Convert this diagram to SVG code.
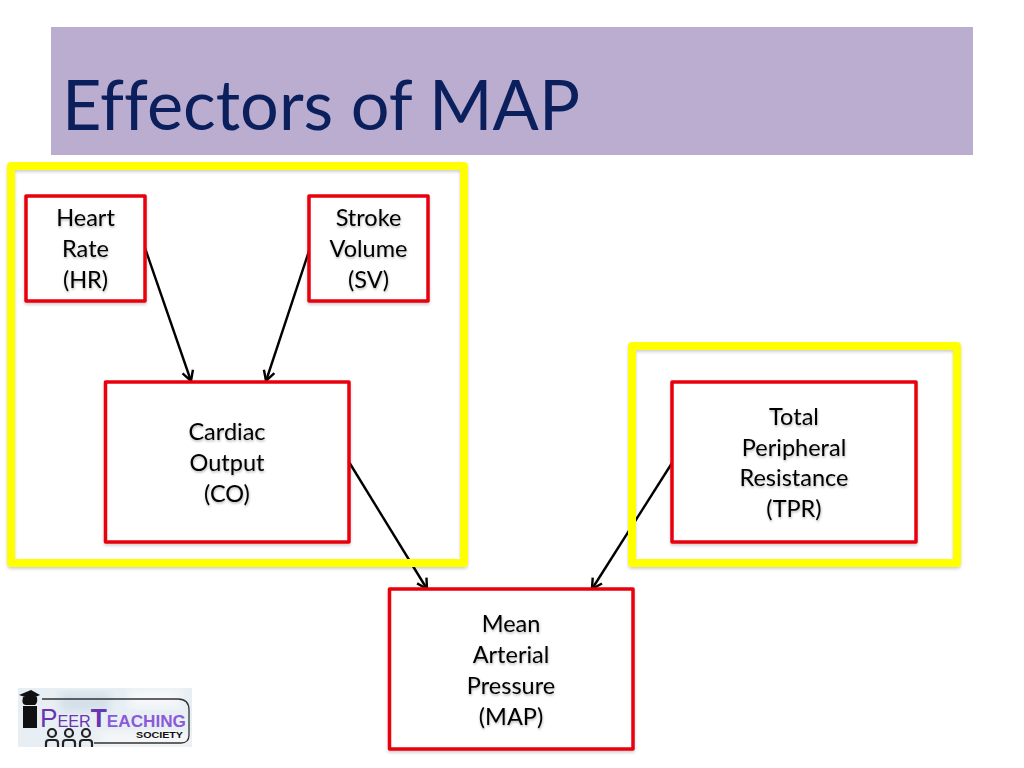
<svg xmlns="http://www.w3.org/2000/svg" width="1024" height="768" viewBox="0 0 1024 768">
<defs>
<filter id="sh" x="-5%" y="-5%" width="110%" height="110%"><feDropShadow dx="0" dy="2" stdDeviation="1.500" flood-color="#000" flood-opacity="0.18"/></filter>
<filter id="ts" x="-10%" y="-10%" width="120%" height="130%"><feDropShadow dx="0.500" dy="1.500" stdDeviation="1" flood-color="#000" flood-opacity="0.3"/></filter>
<filter id="bl"><feGaussianBlur stdDeviation="5"/></filter>
<marker id="arr" markerUnits="userSpaceOnUse" markerWidth="16" markerHeight="16" refX="13" refY="8" orient="auto"><path d="M3 2.500L13 8L3 13.500" fill="none" stroke="#000" stroke-width="2.400"/></marker>
<clipPath id="lc"><rect x="18" y="688" width="174" height="59"/></clipPath>
</defs>
<style>
.frame{fill:none;stroke:#ffff00;stroke-width:8;stroke-linejoin:round;filter:url(#sh)}
.box{fill:#fff;stroke:#e8000f;stroke-width:3.500;stroke-linejoin:round;filter:url(#sh)}
.lbl{font-family:"Lato","Liberation Sans",sans-serif;font-size:23.500px;fill:#000;text-anchor:middle;filter:url(#ts)}
.cn{fill:none;stroke:#000;stroke-width:2.400;marker-end:url(#arr)}
</style>
<rect x="51" y="27" width="922" height="128" fill="#bbadcf"/>
<text x="62" y="130" font-family="Lato,'Liberation Sans',sans-serif" font-size="69" fill="#0b1f5c" textLength="518" lengthAdjust="spacingAndGlyphs" style="font-variant-ligatures:none">Effectors of MAP</text>
<g id="connectors">
<line class="cn" x1="145" y1="248" x2="191" y2="381"/>
<line class="cn" x1="310" y1="248" x2="266" y2="381"/>
<line class="cn" x1="349" y1="462" x2="427" y2="589"/>
<line class="cn" x1="672" y1="463" x2="592" y2="589"/>
</g>
<g id="frame-left"><rect class="frame" x="11" y="166" width="453" height="397"/></g>
<g id="frame-right"><rect class="frame" x="632" y="346" width="325" height="217"/></g>
<g id="heart-rate"><rect class="box" x="26" y="196" width="119" height="105"/>
<text class="lbl"><tspan x="85.500" y="226">Heart</tspan><tspan x="85.500" y="257">Rate</tspan><tspan x="85.500" y="288">(HR)</tspan></text></g>
<g id="stroke-volume"><rect class="box" x="309" y="196" width="119" height="105"/>
<text class="lbl"><tspan x="368.500" y="226">Stroke</tspan><tspan x="368.500" y="257">Volume</tspan><tspan x="368.500" y="288">(SV)</tspan></text></g>
<g id="cardiac-output"><rect class="box" x="105.500" y="382" width="243.500" height="160"/>
<text class="lbl"><tspan x="227" y="440">Cardiac</tspan><tspan x="227" y="471">Output</tspan><tspan x="227" y="502">(CO)</tspan></text></g>
<g id="tpr"><rect class="box" x="672" y="382" width="244" height="160"/>
<text class="lbl"><tspan x="794" y="425">Total</tspan><tspan x="794" y="456">Peripheral</tspan><tspan x="794" y="486">Resistance</tspan><tspan x="794" y="517">(TPR)</tspan></text></g>
<g id="map"><rect class="box" x="389.500" y="589" width="243.500" height="160"/>
<text class="lbl"><tspan x="511" y="632">Mean</tspan><tspan x="511" y="663">Arterial</tspan><tspan x="511" y="694">Pressure</tspan><tspan x="511" y="725">(MAP)</tspan></text></g>
<g id="logo">
<g clip-path="url(#lc)"><rect x="18" y="688" width="174" height="59" fill="#e8eff4"/>
<rect x="60" y="692" width="50" height="20" fill="#d3e0ea" filter="url(#bl)"/><rect x="130" y="690" width="50" height="18" fill="#f6f8fa" filter="url(#bl)"/><rect x="100" y="732" width="90" height="14" fill="#f6f7f8" filter="url(#bl)"/></g>
<path d="M42 699H178Q189 699 189 710V735Q189 743 181 743H94" fill="none" stroke="#333" stroke-width="1.300"/>
<path d="M19 695L31 690L40 695L31 699Z" fill="#111"/>
<path d="M23 697Q21 705 26 705H35Q38 703 37 697Z" fill="#111"/>
<rect x="23" y="706" width="14" height="22" fill="#111"/>
<text x="40" y="727" font-family="'Liberation Sans',sans-serif" fill="#6a35b0" textLength="146" lengthAdjust="spacingAndGlyphs"><tspan font-size="26">P</tspan><tspan font-size="16">EER</tspan><tspan font-size="26" font-weight="bold">T</tspan><tspan font-size="17" font-weight="bold" fill="#8a5ad8">EACHING</tspan></text>
<text x="136" y="738" font-family="'Liberation Sans',sans-serif" font-size="9" font-weight="bold" fill="#111" textLength="47" lengthAdjust="spacingAndGlyphs">SOCIETY</text>
<g fill="none" stroke="#222" stroke-width="2.200">
<circle cx="52" cy="733" r="4"/><circle cx="69" cy="733" r="4"/><circle cx="86" cy="733" r="4"/>
<path d="M46 747V743Q46 740 49 740H55Q58 740 58 743V747M63 747V743Q63 740 66 740H72Q75 740 75 743V747M80 747V743Q80 740 83 740H89Q92 740 92 743V747"/></g>
</g>
</svg>
